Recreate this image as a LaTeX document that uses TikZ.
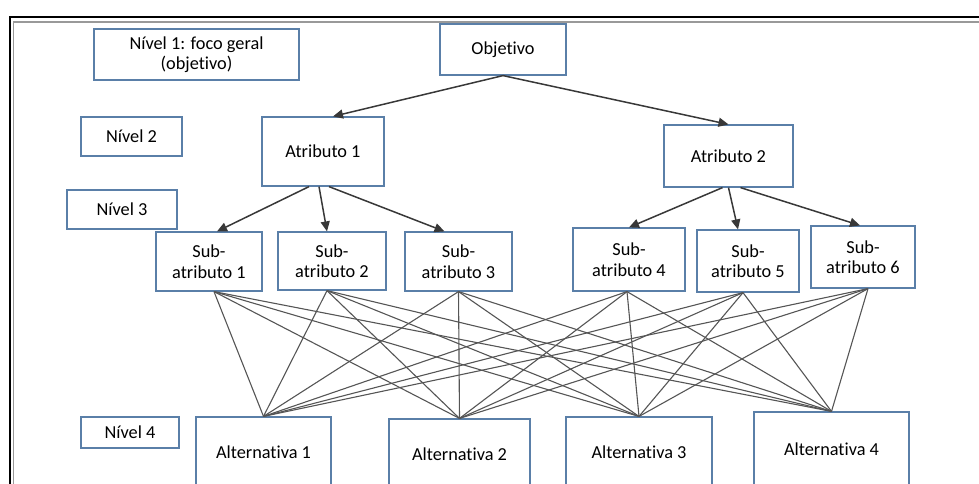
\documentclass[tikz,border=0pt]{standalone}
\usepackage{fontspec}
\setmainfont[Ligatures={NoCommon}]{Carlito}
\usetikzlibrary{arrows.meta}
\definecolor{boxblue}{HTML}{5A7FA8}
\definecolor{arrowgray}{HTML}{383838}
\definecolor{linegray}{HTML}{555555}
\tikzset{
  box/.style={draw=boxblue, line width=1.2pt, align=center, inner sep=0pt, font=\fontsize{18.3}{20.5}\selectfont},
  arr/.style={draw=arrowgray, line width=1.5pt, -{Triangle[length=10pt,width=9pt]}},
  conn/.style={draw=linegray, line width=1.1pt}
}
\begin{document}
\begin{tikzpicture}[x=1pt,y=-1pt]
\useasboundingbox (0,0) rectangle (979,483);
\begin{scope}
\clip (0,0) rectangle (979,483);
% frame
\draw[black, line width=1.5pt] (10,600) -- (10,17) -- (1000,17);
\draw[gray!80, line width=1.8pt] (13.5,600) -- (13.5,22) -- (1000,22);
% level labels
\node[box, minimum width=205pt, minimum height=51pt] (lv1) at (196.5,54.5) {Nível 1: foco geral\\(objetivo)};
\node[box, minimum width=101pt, minimum height=39pt] (lv2) at (131.5,136.5) {Nível 2};
\node[box, minimum width=110pt, minimum height=39pt] (lv3) at (122,209.5) {Nível 3};
\node[box, minimum width=98pt, minimum height=31pt] (lv4) at (130,432.5) {Nível 4};
% hierarchy
\node[box, minimum width=126pt, minimum height=51pt] (obj) at (503,49.5) {Objetivo};
\node[box, minimum width=122pt, minimum height=69pt] (at1) at (323,151.5) {Atributo 1};
\node[box, minimum width=129pt, minimum height=62pt] (at2) at (728.5,156) {Atributo 2};
\node[box, minimum width=106pt, minimum height=59pt] (s1) at (209,261.5) {Sub-\\atributo 1};
\node[box, minimum width=108pt, minimum height=58pt] (s2) at (332,261) {Sub-\\atributo 2};
\node[box, minimum width=107pt, minimum height=59pt] (s3) at (458.5,261.5) {Sub-\\atributo 3};
\node[box, minimum width=112pt, minimum height=63pt] (s4) at (629,259.5) {Sub-\\atributo 4};
\node[box, minimum width=102pt, minimum height=62pt] (s5) at (748,261) {Sub-\\atributo 5};
\node[box, minimum width=104pt, minimum height=62pt] (s6) at (863,257) {Sub-\\atributo 6};
\node[box, minimum width=135pt, minimum height=70pt] (a1) at (263.5,452) {Alternativa 1};
\node[box, minimum width=141pt, minimum height=70pt] (a2) at (459.5,454) {Alternativa 2};
\node[box, minimum width=146pt, minimum height=70pt] (a3) at (639,452) {Alternativa 3};
\node[box, minimum width=155pt, minimum height=74pt] (a4) at (831.5,449) {Alternativa 4};
% arrows
\draw[arr] (obj.south) -- ([xshift=10pt]at1.north);
\draw[arr] (obj.south) -- (at2.north);
\draw[arr] ([xshift=-14pt]at1.south) -- ([xshift=8pt]s1.north);
\draw[arr] ([xshift=-4pt]at1.south) -- ([xshift=-5pt]s2.north);
\draw[arr] ([xshift=6pt]at1.south) -- ([xshift=-14pt]s3.north);
\draw[arr] ([xshift=-6pt]at2.south) -- (s4.north);
\draw[arr] (at2.south) -- ([xshift=-10pt]s5.north);
\draw[arr] ([xshift=12pt]at2.south) -- ([xshift=-3pt]s6.north);
% connections
\foreach \s/\o in {s1/5pt,s2/-5pt,s3/0pt,s4/-2pt,s5/-5pt,s6/5pt}{
  \foreach \a in {a1,a2,a3,a4}{
    \draw[conn] ([xshift=\o]\s.south) -- (\a.north);
  }
}
\end{scope}
\end{tikzpicture}
\end{document}
